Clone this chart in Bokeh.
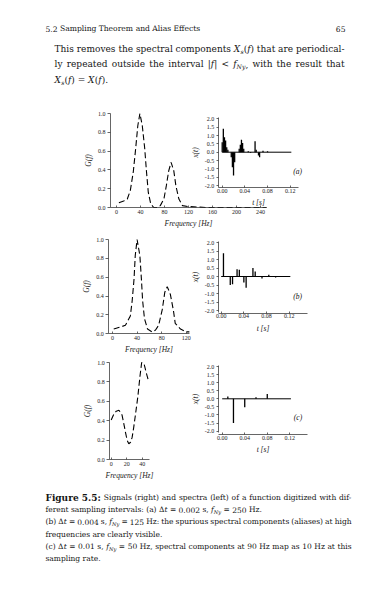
from bokeh.plotting import figure
from bokeh.models import Range1d, LinearAxis, FixedTicker, PrintfTickFormatter
from bokeh.embed import file_html
from bokeh.resources import INLINE
from bokeh.core.properties import value

# ------------------------------------------------------------------ data
# spectra G(f) (frequency in Hz)
spec_a_f = [4, 12, 18, 23, 28, 32, 35.5, 39, 43, 47, 50, 53, 57, 62, 68, 73, 79, 83, 87, 91,
            95.5, 99, 104, 110, 120, 150, 200, 250]
spec_a_G = [0.05, 0.07, 0.09, 0.18, 0.38, 0.63, 0.87, 1.0, 0.87, 0.63, 0.38, 0.16, 0.04, 0.0,
            0.0, 0.02, 0.09, 0.23, 0.39, 0.48, 0.39, 0.23, 0.09, 0.02, 0.01, 0.0, 0.0, 0.0]

spec_b_f = [2, 12, 21, 29, 32, 35, 37, 40, 44.5, 47, 49, 52, 57, 64.5, 70, 75, 81, 85, 89, 94,
            99, 102, 110.6, 120, 125]
spec_b_G = [0.05, 0.07, 0.09, 0.19, 0.35, 0.58, 0.83, 1.0, 0.83, 0.58, 0.35, 0.16, 0.05, 0.02,
            0.04, 0.09, 0.26, 0.44, 0.50, 0.42, 0.25, 0.11, 0.05, 0.02, 0.02]

spec_c_f = [0, 3.4, 6.5, 10, 14, 16.3, 18.5, 20.6, 22.7, 25, 27, 29, 31.4, 34.4, 37, 39.3,
            42.3, 45.4, 47.5]
spec_c_G = [0.41, 0.47, 0.50, 0.51, 0.46, 0.37, 0.28, 0.20, 0.165, 0.18, 0.23, 0.33, 0.47,
            0.65, 0.85, 1.0, 0.99, 0.89, 0.83]

# sampled signals x(t) (only the visible, non-zero samples), t in s
sig_a_t = [0.000, 0.002, 0.004, 0.006, 0.008, 0.010, 0.016, 0.018, 0.020, 0.022, 0.030, 0.032,
           0.034, 0.036, 0.038, 0.046, 0.050, 0.058, 0.060, 0.064, 0.066, 0.072, 0.080]
sig_a_x = [0.6, 1.4, 0.9, 0.7, 0.3, 0.15, -0.3, -0.9, -1.4, -0.6, 0.2, 0.45, 0.74, 0.55, 0.2,
           0.06, -0.05, 0.66, 0.15, -0.2, -0.3, 0.08, 0.05]

sig_b_t = [0.004, 0.016, 0.020, 0.028, 0.032, 0.040, 0.044, 0.056, 0.060, 0.072, 0.084, 0.096]
sig_b_x = [1.37, -0.5, -0.45, 0.43, 0.4, -0.35, -0.66, 0.5, 0.3, -0.12, 0.1, -0.06]

sig_c_t = [0.01, 0.02, 0.04, 0.06, 0.08]
sig_c_x = [0.15, -1.5, -0.52, 0.1, 0.3]

# ticks
spec_yticks = [0.0, 0.2, 0.4, 0.6, 0.8, 1.0]
spec_a_xticks = [0, 40, 80, 120, 160, 200, 240]
spec_b_xticks = [0, 40, 80, 120]
spec_c_xticks = [0, 20, 40]
sig_yticks = [-2.0, -1.5, -1.0, -0.5, 0.0, 0.5, 1.0, 1.5, 2.0]
sig_xticks = [0.00, 0.04, 0.08, 0.12]

# ------------------------------------------------------------------ page figure
W, H = 390, 590
SERIF = "DejaVu Serif"
PSERIF = "Liberation Serif"

p = figure(width=W, height=H, x_range=Range1d(0, W), y_range=Range1d(H, 0),
           output_backend="svg", toolbar_location=None, min_border=0,
           x_axis_location=None, y_axis_location=None)
p.grid.visible = False
p.outline_line_color = None
p.background_fill_color = "white"
p.border_fill_color = "white"


def xmap(d0, d1, p0, p1):
    u0, u1 = p0 / W, p1 / W
    span = (d1 - d0) / (u1 - u0)
    s = d0 - u0 * span
    return Range1d(start=s, end=s + span)


def ymap(d0, d1, p0, p1):
    u0, u1 = (H - p0) / H, (H - p1) / H
    span = (d1 - d0) / (u1 - u0)
    s = d0 - u0 * span
    return Range1d(start=s, end=s + span)


# panel placement (page pixels)
p.extra_x_ranges = {
    "fa": xmap(0, 240, 116, 260), "ta": xmap(0, 0.12, 221.7, 289.7),
    "fb": xmap(0, 120, 112, 185.8), "tb": xmap(0, 0.12, 220.7, 288.7),
    "fc": xmap(0, 40, 110.7, 141.7), "tc": xmap(0, 0.12, 221.7, 289.3),
}
p.extra_y_ranges = {
    "Ga": ymap(0, 1, 207, 113), "xa": ymap(0, 2, 151.7, 118.3),
    "Gb": ymap(0, 1, 333.3, 239), "xb": ymap(0, 2, 276, 242),
    "Gc": ymap(0, 1, 459.3, 362), "xc": ymap(0, 2, 398.3, 366),
}

AX = "#333333"


def axis(side, xr, yr, loc, bounds, ticks, fmt, label, tick_out=2, tick_in=0,
         lab_standoff=2, ax_standoff=2):
    a = LinearAxis(x_range_name=xr, y_range_name=yr, fixed_location=loc, bounds=bounds,
                   ticker=FixedTicker(ticks=ticks), formatter=PrintfTickFormatter(format=fmt),
                   axis_label=label)
    a.axis_line_color = AX
    a.axis_line_width = 0.75
    a.major_tick_line_color = AX
    a.major_tick_line_width = 0.75
    a.major_tick_out = tick_out
    a.major_tick_in = tick_in
    a.minor_tick_line_color = None
    a.major_label_standoff = lab_standoff
    a.major_label_text_font = PSERIF
    a.major_label_text_font_size = "6px"
    a.major_label_text_color = "#222222"
    a.axis_label_text_font = PSERIF
    a.axis_label_text_font_style = "italic"
    a.axis_label_text_font_size = "7.5px"
    a.axis_label_text_color = "#222222"
    a.axis_label_standoff = ax_standoff
    p.add_layout(a, side)


# spectra
for k, fx, gy, xt, b, yl in [("a", spec_a_f, spec_a_G, spec_a_xticks, (-10, 250), -10),
                             ("b", spec_b_f, spec_b_G, spec_b_xticks, (-6, 125), -6),
                             ("c", spec_c_f, spec_c_G, spec_c_xticks, (-2, 49), -2)]:
    axis("left", "f" + k, "G" + k, yl, (0, 1.0), spec_yticks, "%.1f", "G(f)", tick_out=3)
    axis("below", "f" + k, "G" + k, 0, b, xt, "%d", "Frequency [Hz]", tick_out=0, tick_in=2)
    p.line(fx, gy, x_range_name="f" + k, y_range_name="G" + k, line_color="black",
           line_width=1.1, line_dash="6 3")

# signals
for k, ts, xs, yloc, xb in [("a", sig_a_t, sig_a_x, -2.13, (-0.007, 0.135)),
                            ("b", sig_b_t, sig_b_x, -2.16, (-0.005, 0.152)),
                            ("c", sig_c_t, sig_c_x, -2.23, (-0.007, 0.152))]:
    axis("left", "t" + k, "x" + k, xb[0], (-2.1, 2.05), sig_yticks, "%.1f", "x(t)")
    axis("below", "t" + k, "x" + k, yloc, xb, sig_xticks, "%.2f", "t [s]", tick_out=0,
         tick_in=2, lab_standoff=1)
    p.segment(x0=[0.0], y0=[0.0], x1=[0.122], y1=[0.0], x_range_name="t" + k,
              y_range_name="x" + k, line_color="black", line_width=1)
    p.segment(x0=ts, y0=[0.0] * len(ts), x1=ts, y1=xs, x_range_name="t" + k,
              y_range_name="x" + k, line_color="black", line_width=1.3)

# panel tags
p.text(x=[292.7, 292.7, 293.3], y=[171, 295.7, 416.7], text=["(a)", "(b)", "(c)"],
       text_font=value(PSERIF), text_font_size="7.5px", text_font_style="italic",
       text_baseline="middle", text_color="#111111")

# ------------------------------------------------------------------ running text
CW = {" ": .318, "a": .596, "b": .640, "c": .552, "d": .640, "e": .592, "f": .370, "g": .640,
      "h": .642, "i": .321, "k": .607, "l": .321, "m": .958, "n": .642, "o": .602, "p": .640,
      "q": .640, "r": .478, "s": .513, "t": .400, "u": .642, "v": .569, "w": .832, "y": .569,
      "z": .525, ".": .318, ",": .318, ":": .337, "(": .390, ")": .390, "-": .338, "=": .838,
      "<": .838, "|": .337, "\u0394": .750, "A": .722, "E": .730, "F": .694, "H": .872,
      "N": .875, "S": .650, "T": .686, "X": .754}
for d in "0123456789":
    CW[d] = .636

buckets = {}
SIZE_F = {"sub": 0.68, "b": 1.2}


def piece_size(kind, base):
    return base * SIZE_F.get(kind, 1.0)


def piece_w(text, kind, base):
    w = sum(CW.get(c, 0.6) for c in text) * piece_size(kind, base)
    return w * (1.1 if kind == "b" else 1.0)


def line(words, x0, y, base, x1=None):
    # words: list of words, word = list of (text, kind) pieces
    widths = [sum(piece_w(t, k, base) for t, k in w) for w in words]
    if x1 is not None and len(words) > 1:
        gap = (x1 - x0 - sum(widths)) / (len(words) - 1)
    else:
        gap = CW[" "] * base
    x = x0
    for w, ww in zip(words, widths):
        xx = x
        for t, k in w:
            sz = piece_size(k, base)
            dy = 0.3 * base if k == "sub" else 0.0
            key = (k, round(sz, 2))
            b = buckets.setdefault(key, ([], [], []))
            b[0].append(xx)
            b[1].append(y + dy)
            b[2].append(t)
            xx += piece_w(t, k, base)
        x += ww + gap


def plain(s):
    return [[(w, "n")] for w in s.split()]


XS = [("X", "i"), ("s", "sub"), ("(", "n"), ("f", "i"), (")", "n")]
FNY = [("f", "i"), ("Ny", "sub")]
DT = [("\u0394", "n"), ("t", "i")]

# running head
line(plain("5.2 Sampling Theorem and Alias Effects"), 45, 28, 7.6)

# body text
BS = 9.0
line(plain("This removes the spectral components") + [XS] + plain("that are periodical-"),
     54, 48, BS, 344)
line(plain("ly repeated outside the interval") +
     [[("|", "n"), ("f", "i"), ("|", "n")], [("<", "n")], FNY + [(",", "n")]] +
     plain("with the result that"), 54, 63.5, BS, 344)
line([XS, [("=", "n")], [("X", "i"), ("(", "n"), ("f", "i"), (").", "n")]], 54, 79, BS)

# caption
CS = 7.5
line([[("Figure", "b")], [("5.5:", "b")]] +
     plain("Signals (right) and spectra (left) of a function digitized with dif-"),
     45, 497, CS, 351)
line(plain("ferent sampling intervals: (a)") + [DT] + plain("= 0.002 s,") +
     [FNY] + plain("= 250 Hz."), 45, 509.2, CS)
line(plain("(b)") + [DT] + plain("= 0.004 s,") + [FNY] +
     plain("= 125 Hz: the spurious spectral components (aliases) at high"), 45, 521.4, CS, 351)
line(plain("frequencies are clearly visible."), 45, 533.6, CS)
line(plain("(c)") + [DT] + plain("= 0.01 s,") + [FNY] +
     plain("= 50 Hz, spectral components at 90 Hz map as 10 Hz at this"), 45, 545.8, CS, 351)
line(plain("sampling rate."), 45, 558, CS)

STYLE = {"n": "normal", "i": "italic", "sub": "italic", "b": "bold"}
for (k, sz), (xs, ys, ss) in buckets.items():
    p.text(x=xs, y=ys, text=ss, text_font=value(SERIF), text_font_size=f"{sz}px",
           text_font_style=STYLE[k], text_align="left", text_baseline="middle",
           text_color="#151515")

p.text(x=[345], y=[28], text=["65"], text_font=value(SERIF), text_font_size="7.6px",
       text_align="right", text_baseline="middle", text_color="#151515")

open("out.html", "w").write(file_html(p, INLINE))
